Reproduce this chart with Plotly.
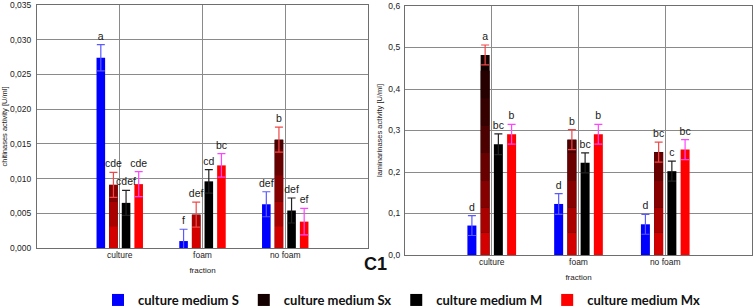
import plotly.graph_objects as go

W, H = 754, 308

categories = ["culture", "foam", "no foam"]
series_names = ["culture medium S", "culture medium Sx", "culture medium M", "culture medium Mx"]

# chitinases activity [U/ml]
chit_S = [0.0274, 0.0010, 0.0063]
chit_S_err = [0.0019, 0.0017, 0.0018]
chit_Sx = [0.0091, 0.0048, 0.0156]
chit_Sx_err = [0.0018, 0.0018, 0.0018]
chit_M = [0.0065, 0.0096, 0.0054]
chit_M_err = [0.0018, 0.0017, 0.0018]
chit_Mx = [0.0092, 0.0119, 0.0038]
chit_Mx_err = [0.0018, 0.0017, 0.0019]
chit_S_lbl = ["a", "f", "def"]
chit_Sx_lbl = ["cde", "def", "b"]
chit_M_lbl = ["cdef", "cd", "def"]
chit_Mx_lbl = ["cde", "bc", "ef"]

# laminarinases activity [U/ml]
lam_S = [0.071, 0.123, 0.074]
lam_S_err = [0.024, 0.025, 0.024]
lam_Sx = [0.482, 0.278, 0.248]
lam_Sx_err = [0.024, 0.024, 0.024]
lam_M = [0.267, 0.222, 0.202]
lam_M_err = [0.025, 0.024, 0.024]
lam_Mx = [0.291, 0.291, 0.254]
lam_Mx_err = [0.024, 0.024, 0.024]
lam_S_lbl = ["d", "d", "d"]
lam_Sx_lbl = ["a", "b", "bc"]
lam_M_lbl = ["bc", "bc", "c"]
lam_Mx_lbl = ["b", "b", "bc"]

chit_ticks = [0.0, 0.005, 0.010, 0.015, 0.020, 0.025, 0.030, 0.035]
lam_ticks = [0.0, 0.1, 0.2, 0.3, 0.4, 0.5, 0.6]

# style
bar_colors = ["#0000ff", "#150000", "#000000", "#ff0000"]
err_colors = ["#5a5aff", "#f04848", "#222222", "#ff44ff"]
# Sx gradient bands (fraction of axis max, colour)
sx_bands = [(0.00, 0.09, "#d40000"), (0.09, 0.19, "#ab0000"), (0.19, 0.30, "#870000"),
            (0.30, 0.41, "#680000"), (0.41, 0.52, "#4c0000"), (0.52, 0.63, "#360000"),
            (0.63, 0.74, "#260000")]

fig = go.Figure()


def add_chart(xa, ya, ymax, vals, errs, lbls, legend):
    groups = ["S", "Sx", "M", "Mx"]
    for i, (v, e, g) in enumerate(zip(vals, errs, groups)):
        err = dict(type="data", array=e, color=err_colors[i], thickness=1.2, width=4)
        if g == "Sx":
            fig.add_trace(go.Bar(x=categories, y=v, name=series_names[i], offsetgroup=g,
                                 marker=dict(color=bar_colors[i], line=dict(width=0)),
                                 xaxis=xa, yaxis=ya, showlegend=legend, hoverinfo="skip"))
            for lo, hi, c in sx_bands:
                b = lo * ymax
                hts = [max(0.0, min(val, hi * ymax) - b) for val in v]
                fig.add_trace(go.Bar(x=categories, y=[h if h > 0 else None for h in hts], base=b,
                                     offsetgroup=g, marker=dict(color=c, line=dict(width=0)),
                                     xaxis=xa, yaxis=ya, showlegend=False, hoverinfo="skip"))
            fig.add_trace(go.Bar(x=categories, y=v, offsetgroup=g, error_y=err,
                                 marker=dict(color="rgba(0,0,0,0)", line=dict(width=0)),
                                 xaxis=xa, yaxis=ya, showlegend=False, hoverinfo="skip"))
        else:
            fig.add_trace(go.Bar(x=categories, y=v, name=series_names[i], offsetgroup=g,
                                 marker=dict(color=bar_colors[i], line=dict(width=0)),
                                 error_y=err, xaxis=xa, yaxis=ya, showlegend=legend,
                                 hoverinfo="skip"))
    for v, e, l, g in zip(vals, errs, lbls, groups):
        fig.add_trace(go.Bar(x=categories, y=[a + b for a, b in zip(v, e)], offsetgroup=g,
                             text=l, textposition="outside", constraintext="none",
                             cliponaxis=False,
                             textfont=dict(size=10.5, color="#1a1a1a", family="Liberation Sans"),
                             marker=dict(color="rgba(0,0,0,0)", line=dict(width=0)),
                             xaxis=xa, yaxis=ya, showlegend=False, hoverinfo="skip"))


add_chart("x", "y", 0.035, [chit_S, chit_Sx, chit_M, chit_Mx],
          [chit_S_err, chit_Sx_err, chit_M_err, chit_Mx_err],
          [chit_S_lbl, chit_Sx_lbl, chit_M_lbl, chit_Mx_lbl], True)
add_chart("x2", "y2", 0.6, [lam_S, lam_Sx, lam_M, lam_Mx],
          [lam_S_err, lam_Sx_err, lam_M_err, lam_Mx_err],
          [lam_S_lbl, lam_Sx_lbl, lam_M_lbl, lam_Mx_lbl], False)

grid = "#8a8a8a"
axline = "#6e6e6e"
tickfont = dict(size=8.5, color="#222", family="Liberation Sans")

xcommon = dict(type="category", range=[-1, 3], showgrid=True, gridcolor=grid, gridwidth=1.3,
               showline=True, linecolor=axline, linewidth=1.2, mirror=True, ticks="",
               tickfont=tickfont, automargin=False, zeroline=False, ticklabelstandoff=-1)
ycommon = dict(showgrid=True, gridcolor=grid, gridwidth=1.3, showline=True, linecolor=axline,
               linewidth=1.2, mirror=True, ticks="", tickfont=tickfont, automargin=False,
               zeroline=False, ticklabeloverflow="allow")

fig.update_layout(
    width=W, height=H,
    margin=dict(l=0, r=0, t=0, b=0, autoexpand=False),
    paper_bgcolor="white", plot_bgcolor="white",
    separators=",.",
    barmode="group", bargap=0.39, bargroupgap=0.32,
    font=dict(family="Liberation Sans", color="#222"),
    xaxis=dict(xcommon, domain=[37 / W, 368 / W], anchor="y",
               title=dict(text="fraction", font=dict(size=8, color="#222"), standoff=8)),
    yaxis=dict(ycommon, domain=[1 - 248 / H, 1 - 5 / H], anchor="x", range=[0, 0.0350001],
               tickvals=chit_ticks, tickformat=".3f", ticklabelstandoff=3,
               title=dict(text="chitinases activity [U/ml]", font=dict(size=7.5, color="#222"),
                          standoff=4)),
    xaxis2=dict(xcommon, domain=[405 / W, 752 / W], anchor="y2",
                title=dict(text="fraction", font=dict(size=8, color="#222"), standoff=8)),
    yaxis2=dict(ycommon, domain=[1 - 255 / H, 1 - 6 / H], anchor="x2", range=[0, 0.600001],
                tickvals=lam_ticks, tickformat=".1f", ticklabelstandoff=2,
                title=dict(text="laminarinases activity [U/ml]",
                           font=dict(size=7.5, color="#222"), standoff=4)),
    legend=dict(orientation="h", x=98 / W, xanchor="left", y=1 - 300 / H, yanchor="middle",
                traceorder="normal", bgcolor="rgba(0,0,0,0)",
                font=dict(family="Lato", size=13, color="#111", weight="bold")),
    annotations=[dict(text="<b>C1</b>", x=375 / W, y=1 - 264 / H, xref="paper", yref="paper",
                      xanchor="center", yanchor="middle", showarrow=False,
                      font=dict(size=18, color="#111", family="Liberation Sans"))],
)

fig.write_html("out.html", config={"displayModeBar": False},
               post_script="document.body.style.margin='0px';")
